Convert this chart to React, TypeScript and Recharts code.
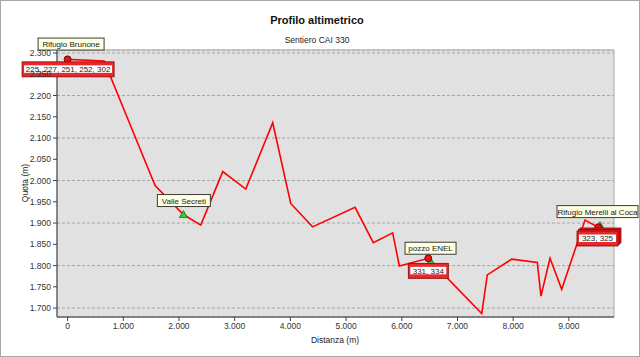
import React from 'react';
import { ComposedChart, Line, Scatter, XAxis, YAxis, CartesianGrid, ReferenceArea } from 'recharts';

// Profile data (distance in m, elevation in m)
const distances = [0, 655, 1571, 2079, 2391, 2786, 3199, 3683, 4006, 4398, 5161, 5489, 5837, 5956, 6476, 7435, 7535, 7973, 8433, 8499, 8661, 8871, 9289, 9513];
const elevations = [2285, 2281, 1988, 1920, 1895, 2021, 1980, 2136, 1946, 1891, 1937, 1854, 1877, 1799, 1817, 1687, 1778, 1815, 1807, 1728, 1817, 1744, 1907, 1891];

// Named waypoints (green triangles)
const waypointNames = ['Rifugio Brunone', 'Valle Secreti', 'pozzo ENEL', 'Rifugio Merelli al Coca'];
const waypointDist = [0, 2079, 6520, 9559];
const waypointQuota = [2281, 1920, 1809, 1894];

// Points of interest (red circles) with their id lists
const poiIds = ['225, 227, 251, 252, 302', '331, 334', '323, 325'];
const poiDist = [0, 6476, 9528];
const poiQuota = [2285, 1817, 1890];

const xTicks = [0, 1000, 2000, 3000, 4000, 5000, 6000, 7000, 8000, 9000];
const yTicks = [1700, 1750, 1800, 1850, 1900, 1950, 2000, 2050, 2100, 2150, 2200, 2250, 2300];

const profile = distances.map((d, i) => ({ d, q: elevations[i] }));
const waypoints = waypointNames.map((name, i) => ({ d: waypointDist[i], q: waypointQuota[i], name, i }));
const pois = poiIds.map((ids, i) => ({ d: poiDist[i], q: poiQuota[i], ids, i }));

// label layout (styling)
const nameBox = [
  { dx: -29.5, dy: -23, w: 66 },
  { dx: -26, dy: -20, w: 53 },
  { dx: -25.7, dy: -19.5, w: 51 },
  { dx: -43, dy: -20, w: 81 },
];
const idBox = [
  { dx: -45.5, dy: 2.5, w: 92, stack: 0 },
  { dx: -20, dy: 5, w: 40, stack: 0 },
  { dx: -21.3, dy: 3.7, w: 41, stack: 2 },
];

const FONT = '"Liberation Sans", Arial, sans-serif';
const fmt = (v: number) => {
  const s = String(Math.round(v));
  return s.replace(/\B(?=(\d{3})+(?!\d))/g, '.');
};

const WaypointShape = (props: any) => {
  const { cx, cy, payload } = props;
  if (cx == null || cy == null) return null;
  const b = nameBox[payload.i];
  const h = 12;
  return (
    <g>
      <polygon
        points={`${cx},${cy - 4} ${cx - 4},${cy + 3} ${cx + 4},${cy + 3}`}
        fill="#33cc33"
        stroke="#1a6e1a"
        strokeWidth={0.8}
      />
      <rect x={cx + b.dx} y={cy + b.dy} width={b.w} height={h} fill="#ffffe1" stroke="#3c3c3c" strokeWidth={1} />
      <text
        x={cx + b.dx + b.w / 2}
        y={cy + b.dy + h / 2 + 3}
        textAnchor="middle"
        fontFamily={FONT}
        fontSize={8}
        fill="#1a1a1a"
      >
        {payload.name}
      </text>
    </g>
  );
};

const PoiShape = (props: any) => {
  const { cx, cy, payload } = props;
  if (cx == null || cy == null) return null;
  const b = idBox[payload.i];
  const h = 15;
  const x0 = cx + b.dx;
  const y0 = cy + b.dy;
  const layers = [];
  for (let k = b.stack; k >= 1; k--) {
    layers.push(
      <rect key={k} x={x0 + k * 1.5} y={y0 - k * 1.5} width={b.w} height={h} fill="#e8282c" stroke="#8b0000" strokeWidth={0.8} />
    );
  }
  return (
    <g>
      <circle cx={cx} cy={cy} r={3.5} fill="#ee1111" stroke="#5a0000" strokeWidth={0.8} />
      {layers}
      <rect x={x0} y={y0} width={b.w} height={h} fill="#e8282c" stroke="#8b0000" strokeWidth={0.8} />
      <rect x={x0 + 2} y={y0 + 3.5} width={b.w - 4} height={h - 7.5} fill="#ffffff" />
      <text
        x={x0 + b.w / 2}
        y={y0 + h / 2 + 3}
        textAnchor="middle"
        fontFamily={FONT}
        fontSize={8}
        fill="#222"
      >
        {payload.ids}
      </text>
    </g>
  );
};

export default function App() {
  return (
    <div style={{ position: 'absolute', left: 0, top: 0, width: 640, height: 357, background: '#fff', fontFamily: FONT }}>
      <div style={{ position: 'absolute', left: 0, top: 0, width: 638, height: 355, border: '1px solid #a8a8a8' }} />
      <div style={{ position: 'absolute', left: 0, top: 14, width: 634, textAlign: 'center', fontWeight: 'bold', fontSize: 11, color: '#111' }}>
        Profilo altimetrico
      </div>
      <div style={{ position: 'absolute', left: 0, top: 35, width: 634, textAlign: 'center', fontSize: 8.5, color: '#222' }}>
        Sentiero CAI 330
      </div>
      <ComposedChart
        width={640}
        height={357}
        data={profile}
        margin={{ top: 50, right: 26, bottom: 20, left: 10 }}
        style={{ position: 'absolute', left: 0, top: 0 }}
      >
        <CartesianGrid vertical={false} fill="#e1e1e1" stroke="#a6a6a6" strokeDasharray="3 2" />
        <ReferenceArea x1={-190} x2={9810} y1={1679} y2={2307} fill="none" stroke="#a8a8a8" strokeWidth={1} ifOverflow="visible" />
        <XAxis
          dataKey="d"
          type="number"
          domain={[-190, 9810]}
          ticks={xTicks}
          tickFormatter={fmt}
          height={20}
          tickSize={4}
          tickMargin={2}
          stroke="#404040"
          tick={{ fontSize: 8.5, fill: '#333', fontFamily: FONT }}
        />
        <YAxis
          dataKey="q"
          type="number"
          domain={[1679, 2307]}
          ticks={yTicks}
          tickFormatter={fmt}
          width={47}
          tickSize={4}
          tickMargin={2}
          stroke="#404040"
          tick={{ fontSize: 8.5, fill: '#333', fontFamily: FONT }}
        />
        <Line
          dataKey="q"
          type="linear"
          stroke="#ff0000"
          strokeWidth={1.6}
          dot={false}
          activeDot={false}
          isAnimationActive={false}
        />
        <Scatter data={waypoints} dataKey="q" shape={WaypointShape} isAnimationActive={false} />
        <Scatter data={pois} dataKey="q" shape={PoiShape} isAnimationActive={false} />
      </ComposedChart>
      <div style={{ position: 'absolute', left: 0, top: 335, width: 640, textAlign: 'center', fontSize: 8.5, color: '#222', paddingLeft: 30, boxSizing: 'border-box' }}>
        Distanza (m)
      </div>
      <div
        style={{
          position: 'absolute',
          left: 25,
          top: 183,
          fontSize: 8.5,
          color: '#222',
          whiteSpace: 'nowrap',
          transform: 'translate(-50%, -50%) rotate(-90deg)',
        }}
      >
        Quota (m)
      </div>
    </div>
  );
}
